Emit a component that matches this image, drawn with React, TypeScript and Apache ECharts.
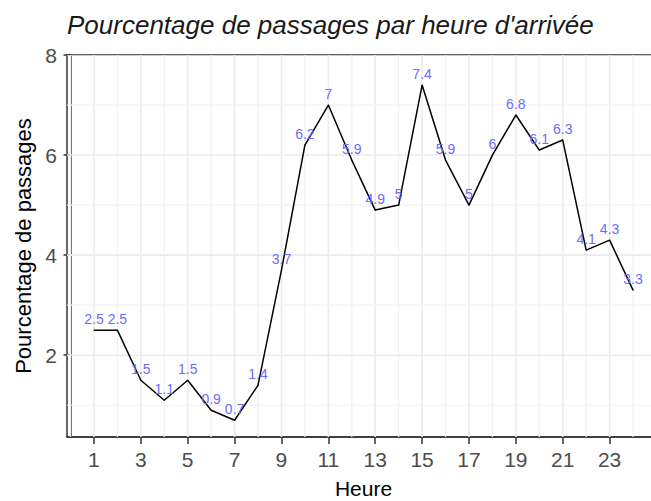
import React, { useEffect, useRef } from "react";
import * as echarts from "echarts";

const hours = [1, 2, 3, 4, 5, 6, 7, 8, 9, 10, 11, 12, 13, 14, 15, 16, 17, 18, 19, 20, 21, 22, 23, 24];
const percentages = [2.5, 2.5, 1.5, 1.1, 1.5, 0.9, 0.7, 1.4, 3.7, 6.2, 7, 5.9, 4.9, 5, 7.4, 5.9, 5, 6, 6.8, 6.1, 6.3, 4.1, 4.3, 3.3];
const xTickLabels = [1, 3, 5, 7, 9, 11, 13, 15, 17, 19, 21, 23];
const yTickLabels = [2, 4, 6, 8];
const xGridValues = [0, 1, 2, 3, 4, 5, 6, 7, 8, 9, 10, 11, 12, 13, 14, 15, 16, 17, 18, 19, 20, 21, 22, 23, 24, 25];
const yGridValues = [1, 2, 3, 4, 5, 6, 7, 8];

const X_MIN = -0.15;
const X_MAX = 25.15;
const Y_MIN = 0.365;
const Y_MAX = 8;

export default function App() {
  const ref = useRef<HTMLDivElement>(null);

  useEffect(() => {
    if (!ref.current) return;
    const chart = echarts.init(ref.current, null, { renderer: "svg" });

    const gridData: number[][] = [];
    xGridValues.forEach((v) => gridData.push([v, 0, xTickLabels.includes(v) ? 1 : 0]));
    yGridValues.forEach((v) => gridData.push([v, 1, yTickLabels.includes(v) ? 1 : 0]));

    const font = "'Liberation Sans', Arial, sans-serif";

    chart.setOption({
      animation: false,
      backgroundColor: "#ffffff",
      title: {
        text: "Pourcentage de passages par heure d'arrivée",
        left: 62,
        top: 7,
        textStyle: {
          fontFamily: font,
          fontStyle: "italic",
          fontWeight: "normal",
          fontSize: 26,
          color: "#1a1a1a",
        },
      },
      grid: {
        left: 67,
        right: 0,
        top: 55,
        bottom: 64,
        show: true,
        borderColor: "#333333",
        borderWidth: 1.5,
        backgroundColor: "transparent",
        containLabel: false,
        outerBoundsMode: "none",
      },
      xAxis: {
        type: "value",
        min: X_MIN,
        max: X_MAX,
        name: "Heure",
        nameLocation: "middle",
        nameGap: 41,
        nameTextStyle: { fontFamily: font, fontSize: 21, color: "#000000" },
        axisLine: { show: true, lineStyle: { color: "#333333", width: 1.5 } },
        axisTick: { show: true, length: 7, customValues: xTickLabels, lineStyle: { color: "#333333", width: 1.5 } },
        axisLabel: {
          customValues: xTickLabels,
          fontFamily: font,
          fontSize: 21,
          color: "#4d4d4d",
          margin: 12,
        },
        splitLine: { show: false },
      },
      yAxis: {
        type: "value",
        min: Y_MIN,
        max: Y_MAX,
        name: "Pourcentage de passages",
        nameLocation: "middle",
        nameGap: 33,
        nameRotate: 90,
        nameTextStyle: { fontFamily: font, fontSize: 22, color: "#000000" },
        axisLine: { show: true, lineStyle: { color: "#333333", width: 1.5 } },
        axisTick: { show: true, length: 7, customValues: yTickLabels, lineStyle: { color: "#333333", width: 1.5 } },
        axisLabel: {
          customValues: yTickLabels,
          fontFamily: font,
          fontSize: 21,
          color: "#4d4d4d",
          margin: 10,
        },
        splitLine: { show: false },
      },
      series: [
        {
          type: "custom",
          silent: true,
          z: 1,
          clip: true,
          data: gridData,
          encode: { x: 0, y: 1 },
          renderItem: (params: any, api: any) => {
            const v = api.value(0);
            const kind = api.value(1);
            const major = api.value(2) === 1;
            let p1, p2;
            if (kind === 0) {
              p1 = api.coord([v, Y_MIN]);
              p2 = api.coord([v, Y_MAX]);
            } else {
              p1 = api.coord([X_MIN, v]);
              p2 = api.coord([X_MAX, v]);
            }
            return {
              type: "line",
              shape: { x1: p1[0], y1: p1[1], x2: p2[0], y2: p2[1] },
              style: { stroke: major ? "#ebebeb" : "#f2f2f2", lineWidth: major ? 1.6 : 1.2 },
            };
          },
        },
        {
          type: "line",
          z: 3,
          data: hours.map((h, i) => [h, percentages[i]]),
          showSymbol: true,
          symbol: "circle",
          symbolSize: 1,
          itemStyle: { color: "#000000" },
          lineStyle: { color: "#000000", width: 1.5 },
          label: {
            show: true,
            position: "top",
            distance: 4,
            fontFamily: font,
            fontSize: 14,
            color: "#6e6bff",
            formatter: (p: any) => String(p.value[1]),
          },
          labelLayout: { hideOverlap: false },
        },
      ],
    });

    return () => chart.dispose();
  }, []);

  return (
    <div style={{ position: "absolute", left: 0, top: 0, width: 651, height: 501, overflow: "hidden" }}>
      <div ref={ref} style={{ width: 660, height: 501 }} />
    </div>
  );
}
